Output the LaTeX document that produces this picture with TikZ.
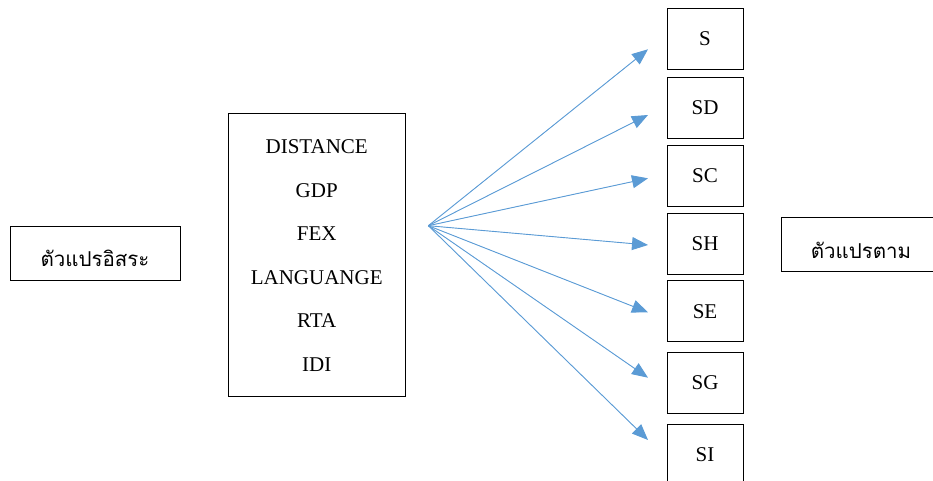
\documentclass[tikz,border=0pt]{standalone}
\usepackage{fontspec}
\setmainfont{Liberation Serif}
\newfontfamily\thaifont[Script=Thai]{Loma}
\usetikzlibrary{arrows.meta}
\begin{document}
\begin{tikzpicture}[x=1pt,y=-1pt,
  box/.style={draw=black,line width=0.9pt,inner sep=0pt,outer sep=0pt},
  lbl/.style={inner sep=0pt,font=\fontsize{21}{24}\selectfont},
  thl/.style={inner sep=0pt,font=\thaifont\fontsize{20.5}{24}\selectfont},
  arr/.style={draw={rgb,255:red,91;green,155;blue,213},line width=0.9pt,
    -{Triangle[length=16pt,width=13pt]},fill={rgb,255:red,91;green,155;blue,213}}]
\useasboundingbox (0,0) rectangle (933,481);
% left box
\node[box,minimum width=170pt,minimum height=54pt] (iv) at (95,253) {};
\node[thl] (ivt) at (95,258) {ตัวแปรอิสระ};
% middle box
\draw[line width=0.9pt] (228.3,113.3) rectangle (405,396.7);
\node[lbl] (v1) at (316.7,147) {DISTANCE};
\node[lbl] (v2) at (316.7,190.5) {GDP};
\node[lbl] (v3) at (316.7,234) {FEX};
\node[lbl] (v4) at (316.7,277.5) {LANGUANGE};
\node[lbl] (v5) at (316.7,321) {RTA};
\node[lbl] (v6) at (316.7,364.5) {IDI};
% right box
\node[box,minimum width=152pt,minimum height=54pt] (dv) at (857,244.7) {};
\node[thl] (dvt) at (861,250) {ตัวแปรตาม};
% dependent boxes
\foreach \n/\t/\y in {s/S/38.8, sd/SD/108, sc/SC/175.5, sh/SH/243.8, se/SE/311.2, sg/SG/382.8, si/SI/455}{
  \node[box,minimum width=76pt,minimum height=61pt,lbl] (\n) at (705,\y) {\t};
}
\coordinate (o) at (428.3,225.7);
\foreach \n/\y in {s/49.3, sd/115, sc/178.3, sh/245, se/312.3, sg/377.7, si/440}{
  \coordinate (t\n) at (648,\y);
  \draw[arr] (o) -- (t\n);
}
\end{tikzpicture}
\end{document}
